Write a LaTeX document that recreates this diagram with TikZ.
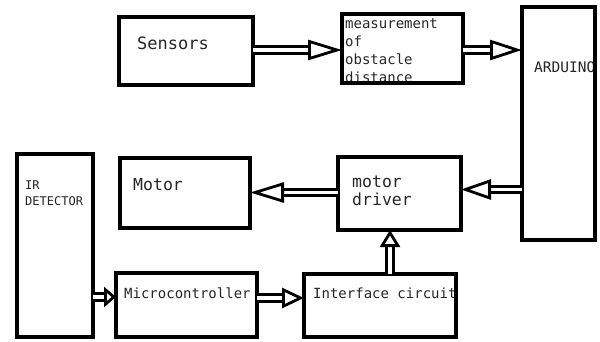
\documentclass[tikz,border=0pt]{standalone}
\usepackage{fontspec}
\setmonofont{DejaVu Sans Mono}
\usetikzlibrary{arrows.meta}
\tikzset{
  box/.style={draw=black, line width=3.6pt, inner sep=0pt, outer sep=0pt, fill=none},
  lbl/.style={anchor=base west, inner sep=0pt, font=\ttfamily, text=black!85},
  arr/.style={line width=2.8pt, double=white, double distance=3.6pt,
    -{Triangle[open, length=#1, width=20pt, line width=2.8pt]}},
  arr/.default=30pt
}
\begin{document}
\begin{tikzpicture}[x=1pt,y=-1pt]
\useasboundingbox[fill=white] (0,0) rectangle (600,341);
% labels first, boxes drawn over them
\node[lbl, font=\ttfamily\fontsize{17}{18}\selectfont] (tsens) at (137,49) {Sensors};
\node[lbl, font=\ttfamily\fontsize{14}{18}\selectfont] (tm1) at (345,28) {measurement};
\node[lbl, font=\ttfamily\fontsize{14}{18}\selectfont] (tm2) at (345,46) {of};
\node[lbl, font=\ttfamily\fontsize{14}{18}\selectfont] (tm3) at (345,64) {obstacle};
\node[lbl, font=\ttfamily\fontsize{14}{18}\selectfont] (tm4) at (345,82) {distance};
\node[lbl, font=\ttfamily\fontsize{14.5}{18}\selectfont] (tard) at (534,72) {ARDUINO};
\node[lbl, font=\ttfamily\fontsize{12}{14}\selectfont] (tir1) at (25,189) {IR};
\node[lbl, font=\ttfamily\fontsize{12}{14}\selectfont] (tir2) at (25,205) {DETECTOR};
\node[lbl, font=\ttfamily\fontsize{16.5}{18}\selectfont] (tmot) at (133,190) {Motor};
\node[lbl, font=\ttfamily\fontsize{16.5}{18}\selectfont] (tdrv1) at (352,187) {motor};
\node[lbl, font=\ttfamily\fontsize{16.5}{18}\selectfont] (tdrv2) at (352,205) {driver};
\node[lbl, font=\ttfamily\fontsize{14}{18}\selectfont] (tmic) at (124,298) {Microcontroller};
\node[lbl, font=\ttfamily\fontsize{14}{18}\selectfont] (tifc) at (313,298) {Interface circuit};
% boxes
\node[box, minimum width=134pt, minimum height=68pt] (sens) at (186,51) {};
\node[box, minimum width=121pt, minimum height=69pt] (meas) at (402.5,48.5) {};
\node[box, minimum width=73pt, minimum height=233pt] (ard) at (558.5,123.5) {};
\node[box, minimum width=76pt, minimum height=183pt] (ir) at (55,245.5) {};
\node[box, minimum width=130pt, minimum height=70pt] (mot) at (185,193) {};
\node[box, minimum width=123pt, minimum height=73pt] (drv) at (399.5,193.5) {};
\node[box, minimum width=141pt, minimum height=64pt] (mic) at (186.5,305) {};
\node[box, minimum width=152pt, minimum height=63pt] (ifc) at (380,305.5) {};
\coordinate (vx) at (390,0);
% connectors
\draw[arr=34pt] ([yshift=-1.5pt]meas.west -| sens.east) -- ([yshift=-1.5pt]meas.west);
\draw[arr=32pt] ([yshift=-1.5pt]meas.east) -- ([yshift=-1.5pt]meas.east -| ard.west);
\draw[arr=30pt] ([yshift=4pt]drv.east -| ard.west) -- ([yshift=4pt]drv.east);
\draw[arr=34pt] ([yshift=1pt]drv.west) -- ([yshift=1pt]drv.west -| mot.east);
\draw[arr=12pt] ([yshift=8pt]mic.west -| ir.east) -- ([yshift=8pt]mic.west);
\draw[arr=22pt] ([yshift=7pt]mic.east) -- ([yshift=7pt]mic.east -| ifc.west);
\draw[arr=17pt] (ifc.north -| vx) -- (drv.south -| vx);
\end{tikzpicture}
\end{document}
